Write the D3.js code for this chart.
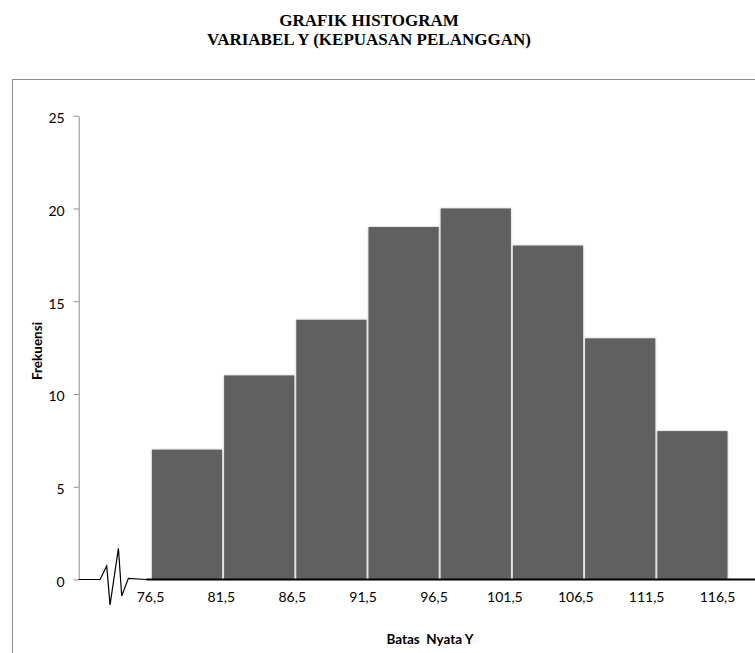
<!DOCTYPE html>
<html>
<head>
<meta charset="utf-8">
<script src="https://cdn.jsdelivr.net/npm/d3@7"></script>
<style>
  body { margin: 0; background: #fff; }
  svg { display: block; }
</style>
</head>
<body>
<div id="grafico"></div>
<script>
// batas nyata (kelas) dan frekuensi
const batas = [76.5, 81.5, 86.5, 91.5, 96.5, 101.5, 106.5, 111.5, 116.5];
const frekuensi = [7, 11, 14, 19, 20, 18, 13, 8];
const tickY = [0, 5, 10, 15, 20, 25];
const labelBatas = ['76,5', '81,5', '86,5', '91,5', '96,5', '101,5', '106,5', '111,5', '116,5'];
// tanda patahan sumbu (satuan data)
const patahX = [71.5, 72.98, 73.44, 73.67, 74.25, 74.48, 74.94, 76.17];
const patahY = [0, 0, 0.73, -1.37, 1.68, -0.89, 0.06, 0];

const largura = 755, altura = 653;

const svg = d3.select('#grafico').append('svg')
  .attr('width', largura)
  .attr('height', altura);

const defs = svg.append('defs');
const f = defs.append('filter').attr('id', 'sombra')
  .attr('x', '-5%').attr('y', '-5%').attr('width', '110%').attr('height', '110%');
f.append('feDropShadow')
  .attr('dx', 0).attr('dy', 0)
  .attr('stdDeviation', 0.9)
  .attr('flood-color', '#9a9a9a')
  .attr('flood-opacity', 0.7);

// bingkai area grafik
svg.append('rect')
  .attr('x', 12.5).attr('y', 79.5)
  .attr('width', 800).attr('height', 700)
  .attr('fill', 'none')
  .attr('stroke', '#8c8c8c')
  .attr('stroke-width', 1);

// judul
const judul = svg.append('text')
  .attr('text-anchor', 'middle')
  .style('font-family', '"Liberation Serif", "Times New Roman", serif')
  .style('font-weight', 'bold')
  .style('font-size', '17px')
  .attr('fill', '#000');
judul.append('tspan').attr('x', 369).attr('y', 26).text('GRAFIK HISTOGRAM');
judul.append('tspan').attr('x', 369).attr('y', 44.9).text('VARIABEL Y (KEPUASAN PELANGGAN)');

// skala
const x = d3.scaleLinear().domain([71.5, 116.5]).range([78.7, 728.5]);
const y = d3.scaleLinear().domain([0, 25]).range([579.5, 115.7]);
const xLabel = d3.scaleLinear().domain([76.5, 116.5]).range([150, 717]);

// sumbu Y
const gy = svg.append('g')
  .attr('transform', 'translate(78.7,0)')
  .call(d3.axisLeft(y).tickValues(tickY).tickSize(5).tickPadding(9).tickSizeOuter(0));
gy.select('.domain').attr('stroke', '#8c8c8c');
gy.selectAll('.tick line').attr('stroke', '#8c8c8c');
gy.selectAll('.tick text')
  .style('font-family', 'Lato, "Open Sans", sans-serif')
  .style('font-size', '14px')
  .attr('fill', '#000')
  .attr('dy', '0.5em');

// batang histogram
svg.append('g').selectAll('rect')
  .data(frekuensi)
  .join('rect')
  .attr('x', (d, i) => x(batas[i]) + 1)
  .attr('y', d => y(d))
  .attr('width', (d, i) => x(batas[i + 1]) - x(batas[i]) - 2)
  .attr('height', d => y(0) - y(d))
  .attr('fill', '#606060')
  .attr('filter', 'url(#sombra)');

// garis dasar dan patahan
svg.append('line')
  .attr('x1', x(76.17)).attr('x2', largura)
  .attr('y1', y(0)).attr('y2', y(0))
  .attr('stroke', '#000')
  .attr('stroke-width', 2.2);

const garisPatah = d3.line().x(d => x(d[0])).y(d => y(d[1]));
svg.append('path')
  .datum(patahX.map((v, i) => [v, patahY[i]]))
  .attr('d', garisPatah)
  .attr('fill', 'none')
  .attr('stroke', '#000')
  .attr('stroke-width', 1.2);

// label sumbu X
const gx = svg.append('g')
  .attr('transform', `translate(0,${y(0)})`)
  .call(d3.axisBottom(xLabel).tickValues(batas).tickSize(0).tickPadding(13)
    .tickFormat((d, i) => labelBatas[i]));
gx.select('.domain').remove();
gx.selectAll('.tick text')
  .style('font-family', 'Lato, "Open Sans", sans-serif')
  .style('font-size', '14px')
  .attr('fill', '#000');

// judul sumbu
svg.append('text')
  .attr('x', 430).attr('y', 644)
  .attr('text-anchor', 'middle')
  .style('font-family', 'Lato, "Open Sans", sans-serif')
  .style('font-weight', 'bold')
  .style('font-size', '13.5px')
  .style('white-space', 'pre')
  .text('Batas  Nyata Y');

svg.append('text')
  .attr('transform', 'translate(41.5,351) rotate(-90)')
  .attr('text-anchor', 'middle')
  .style('font-family', 'Lato, "Open Sans", sans-serif')
  .style('font-weight', 'bold')
  .style('font-size', '13.5px')
  .text('Frekuensi');
</script>
</body>
</html>
